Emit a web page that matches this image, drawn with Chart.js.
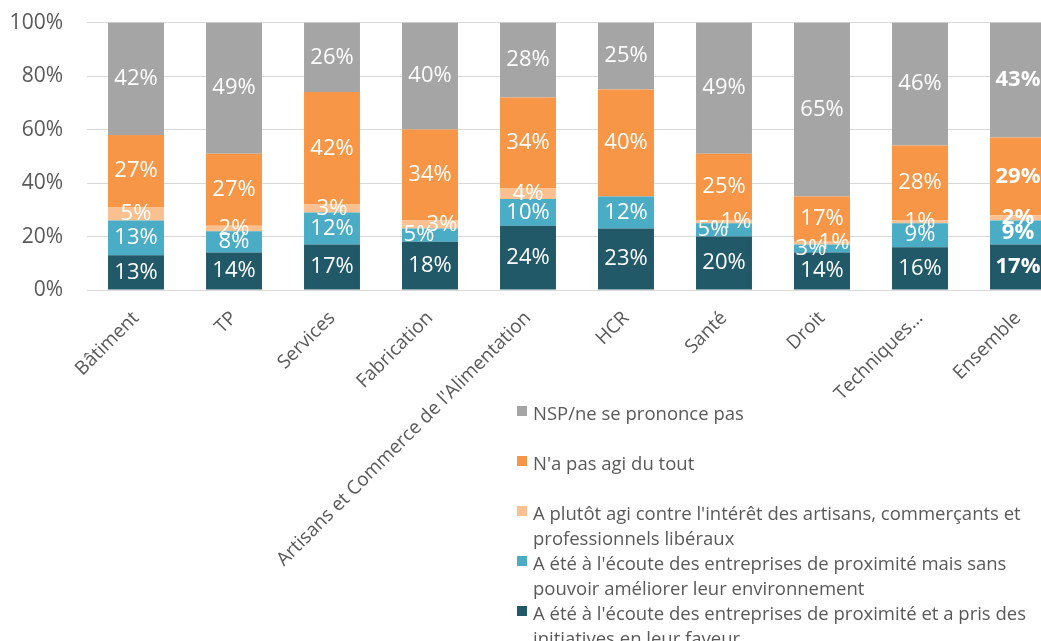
<!DOCTYPE html>
<html>
<head>
<meta charset="utf-8">
<script src="https://cdn.jsdelivr.net/npm/chart.js@4.4.0/dist/chart.umd.min.js"></script>
<style>
  html, body { margin: 0; padding: 0; overflow: hidden; background: #fff; width: 1041px; height: 641px; }
  #wrap { position: absolute; left: 0; top: -14px; width: 1067px; height: 655px; }
  #legend { position: absolute; left: 517px; top: 400px; width: 522px; font-family: "Open Sans"; font-size: 18.5px; color: #595959; line-height: 25px; }
  .item { position: relative; padding-left: 16px; min-height: 50px; }
  .sw { position: absolute; left: 0; top: 6px; width: 10px; height: 10px; }
</style>
</head>
<body>
<div id="wrap"><canvas id="chart" width="1067" height="655"></canvas></div>
<div id="legend"></div>
<script>
const categories = ['Bâtiment', 'TP', 'Services', 'Fabrication', "Artisans et Commerce de l'Alimentation",
  'HCR', 'Santé', 'Droit', 'Techniques…', 'Ensemble'];

// bottom to top
const initiatives = [13, 14, 17, 18, 24, 23, 20, 14, 16, 17];
const ecouteSans = [13, 8, 12, 5, 10, 12, 5, 3, 9, 9];
const contre = [5, 2, 3, 3, 4, 0, 1, 1, 1, 2];
const pasAgi = [27, 27, 42, 34, 34, 40, 25, 17, 28, 29];
const nsp = [42, 49, 26, 40, 28, 25, 49, 65, 46, 43];

const yTicks = [0, 20, 40, 60, 80, 100];

const seriesNames = [
  "A été à l'écoute des entreprises de proximité et a pris des initiatives en leur faveur",
  "A été à l'écoute des entreprises de proximité mais sans pouvoir améliorer leur environnement",
  "A plutôt agi contre l'intérêt des artisans, commerçants et professionnels libéraux",
  "N'a pas agi du tout",
  'NSP/ne se prononce pas'
];
const seriesColors = ['#215968', '#4BACC6', '#FAC090', '#F79646', '#A5A5A5'];
const seriesData = [initiatives, ecouteSans, contre, pasAgi, nsp];

const segmentLabels = {
  id: 'segmentLabels',
  afterDatasetsDraw(chart) {
    const ctx = chart.ctx;
    ctx.save();
    ctx.fillStyle = '#fff';
    ctx.textAlign = 'center';
    ctx.textBaseline = 'middle';
    chart.data.datasets.forEach((ds, di) => {
      const meta = chart.getDatasetMeta(di);
      meta.data.forEach((bar, i) => {
        const v = ds.data[i];
        if (!v) return;
        let x = bar.x;
        // small segments side by side: nudge apart
        if (ecouteSans[i] <= 5 && di === 1) x -= 11;
        if (ecouteSans[i] <= 5 && di === 2) x += 12;
        const y = (bar.y + bar.base) / 2;
        ctx.font = (i === categories.length - 1 ? 'bold ' : '') + '22px "Open Sans"';
        ctx.fillText(v + '%', x, y);
      });
    });
    ctx.restore();
  }
};

new Chart(document.getElementById('chart'), {
  type: 'bar',
  data: {
    labels: categories,
    datasets: seriesData.map((d, k) => ({
      label: seriesNames[k],
      data: d,
      backgroundColor: seriesColors[k],
      barPercentage: 0.571,
      categoryPercentage: 1
    }))
  },
  options: {
    responsive: false,
    animation: false,
    devicePixelRatio: 1,
    layout: { padding: { top: 10, left: 0, right: 0, bottom: 0 } },
    plugins: { legend: { display: false }, tooltip: { enabled: false } },
    scales: {
      x: {
        stacked: true,
        grid: { display: false },
        border: { display: false },
        ticks: {
          autoSkip: false, maxRotation: 45, minRotation: 45, padding: 9,
          color: '#595959', font: { family: 'Open Sans', size: 19 }
        },
        afterFit(scale) { scale.height = 351; }
      },
      y: {
        stacked: true,
        min: 0, max: 100,
        afterBuildTicks(scale) { scale.ticks = yTicks.map(v => ({ value: v })); },
        grid: { color: '#D9D9D9', drawTicks: false },
        border: { display: false },
        ticks: {
          padding: 24, color: '#595959', font: { family: 'Open Sans', size: 21 },
          callback: v => v + '%'
        },
        afterFit(scale) { scale.width = 87; }
      }
    }
  },
  plugins: [segmentLabels]
});

const legend = document.getElementById('legend');
for (let k = seriesNames.length - 1; k >= 0; k--) {
  const item = document.createElement('div');
  item.className = 'item';
  item.innerHTML = '<span class="sw" style="background:' + seriesColors[k] + '"></span>' + seriesNames[k];
  legend.appendChild(item);
}
</script>
</body>
</html>
